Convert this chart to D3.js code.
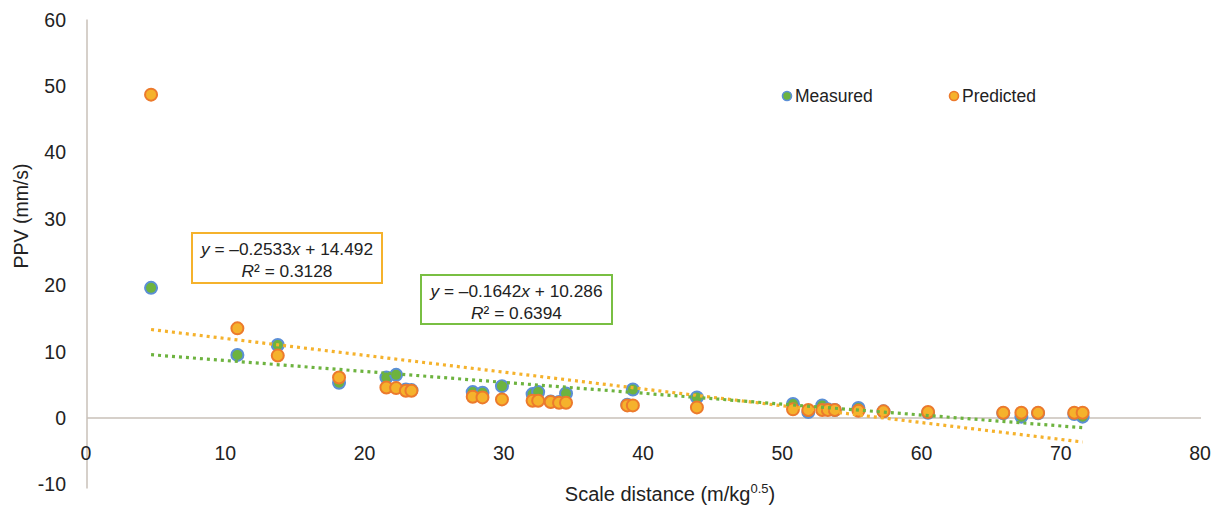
<!DOCTYPE html>
<html>
<head>
<meta charset="utf-8">
<script src="https://cdn.jsdelivr.net/npm/d3@7"></script>
<style>
  body { margin: 0; background: #fff; }
  svg { display: block; font-family: "Liberation Sans", Arial, sans-serif; }
</style>
</head>
<body>
<svg id="chart" width="1219" height="511"></svg>
<script>
// scale distance (m/kg^0.5)
const distance = [4.6, 10.8, 13.7, 18.1, 21.5, 22.2, 22.9, 23.3, 27.7, 28.4, 29.8, 32.0, 32.4, 33.3, 33.9, 34.4,
  38.8, 39.2, 43.8, 50.7, 51.8, 52.8, 53.2, 53.7, 55.4, 57.2, 60.4, 65.8, 67.1, 68.3, 70.9, 71.5];
const measured = [19.6, 9.5, 11.0, 5.3, 6.1, 6.5, 4.3, 4.2, 3.9, 3.8, 4.8, 3.6, 3.9, 2.5, 2.4, 3.7,
  2.0, 4.3, 3.1, 2.1, 0.9, 1.9, 1.3, 1.2, 1.5, 1.0, 0.8, 0.7, 0.2, 0.7, 0.6, 0.2];
const predicted = [48.7, 13.5, 9.4, 6.1, 4.6, 4.5, 4.1, 4.1, 3.2, 3.1, 2.8, 2.6, 2.6, 2.4, 2.3, 2.3,
  1.9, 1.9, 1.6, 1.3, 1.2, 1.2, 1.2, 1.2, 1.1, 1.0, 0.9, 0.8, 0.8, 0.8, 0.8, 0.8];

const xTicks = [0, 10, 20, 30, 40, 50, 60, 70, 80];
const yTicks = [-10, 0, 10, 20, 30, 40, 50, 60];

// linear trendlines (slope, intercept, r2)
const trendPred = { slope: -0.2533, intercept: 14.492, r2: "0.3128", eq: "0.2533", c: "14.492" };
const trendMeas = { slope: -0.1642, intercept: 10.286, r2: "0.6394", eq: "0.1642", c: "10.286" };

const col = {
  measFill: "#6db33f", measStroke: "#5b8fd6",
  predFill: "#f5b22c", predStroke: "#ec7a2c",
  axis: "#c9c0b9", text: "#222"
};

const svg = d3.select("#chart");
const x = d3.scaleLinear().domain([0, 80]).range([87, 1201]);
const y = d3.scaleLinear().domain([-10, 60]).range([484.4, 19.6]);

// axes lines
svg.append("line").attr("x1", x(0)).attr("x2", x(0)).attr("y1", y(60)).attr("y2", y(-10) + 4)
  .attr("stroke", col.axis).attr("stroke-width", 1.5);
svg.append("line").attr("x1", x(0)).attr("x2", x(80)).attr("y1", y(0)).attr("y2", y(0))
  .attr("stroke", col.axis).attr("stroke-width", 1.5);

// tick labels
svg.append("g").selectAll("text").data(yTicks).enter().append("text")
  .attr("x", 66).attr("y", d => y(d) + 7)
  .attr("text-anchor", "end").attr("font-size", 19.5).attr("fill", col.text)
  .text(d => d);
svg.append("g").selectAll("text").data(xTicks).enter().append("text")
  .attr("x", d => x(d) - 1).attr("y", y(0) + 42)
  .attr("text-anchor", "middle").attr("font-size", 19.5).attr("fill", col.text)
  .text(d => d);

// axis titles
svg.append("text").attr("transform", "translate(28,216) rotate(-90)")
  .attr("text-anchor", "middle").attr("font-size", 19.5).attr("fill", col.text)
  .text("PPV (mm/s)");
const xt = svg.append("text").attr("x", 670).attr("y", 501)
  .attr("text-anchor", "middle").attr("font-size", 20).attr("fill", col.text);
xt.append("tspan").text("Scale distance (m/kg");
xt.append("tspan").attr("font-size", 13).attr("dy", -8).text("0.5");
xt.append("tspan").attr("dy", 8).text(")");

// markers
function drawSeries(vals, fill, stroke) {
  svg.append("g").selectAll("circle").data(distance).enter().append("circle")
    .attr("cx", d => x(d)).attr("cy", (d, i) => y(vals[i]))
    .attr("r", 6).attr("fill", fill).attr("stroke", stroke).attr("stroke-width", 2);
}
drawSeries(measured, col.measFill, col.measStroke);
drawSeries(predicted, col.predFill, col.predStroke);

// trendlines
const xMin = d3.min(distance), xMax = d3.max(distance);
function drawTrend(t, color) {
  svg.append("line")
    .attr("x1", x(xMin)).attr("y1", y(t.slope * xMin + t.intercept))
    .attr("x2", x(xMax)).attr("y2", y(t.slope * xMax + t.intercept))
    .attr("stroke", color).attr("stroke-width", 3.2)
    .attr("stroke-dasharray", "3 4");
}
drawTrend(trendPred, col.predFill);
drawTrend(trendMeas, col.measFill);

// equation boxes
function eqBox(t, bx, by, bw, bh, color) {
  const g = svg.append("g");
  g.append("rect").attr("x", bx).attr("y", by).attr("width", bw).attr("height", bh)
    .attr("fill", "#fff").attr("stroke", color).attr("stroke-width", 2);
  const cx = bx + bw / 2;
  const l1 = g.append("text").attr("x", cx).attr("y", by + 22)
    .attr("text-anchor", "middle").attr("font-size", 17.3).attr("fill", col.text);
  l1.append("tspan").attr("font-style", "italic").text("y");
  l1.append("tspan").text(" = \u2013" + t.eq);
  l1.append("tspan").attr("font-style", "italic").text("x");
  l1.append("tspan").text(" + " + t.c);
  const l2 = g.append("text").attr("x", cx).attr("y", by + 44)
    .attr("text-anchor", "middle").attr("font-size", 17.3).attr("fill", col.text);
  l2.append("tspan").attr("font-style", "italic").text("R");
  l2.append("tspan").text("\u00b2 = " + t.r2);
}
eqBox(trendPred, 192, 233, 190, 50, col.predFill);
eqBox(trendMeas, 421, 275, 191, 49, "#79bf43");

// legend
const legend = [
  { name: "Measured", fill: col.measFill, stroke: col.measStroke, x: 787 },
  { name: "Predicted", fill: col.predFill, stroke: col.predStroke, x: 954 }
];
const lg = svg.append("g").selectAll("g").data(legend).enter().append("g");
lg.append("circle").attr("cx", d => d.x).attr("cy", 96).attr("r", 4.5)
  .attr("fill", d => d.fill).attr("stroke", d => d.stroke).attr("stroke-width", 1.6);
lg.append("text").attr("x", d => d.x + 8).attr("y", 102)
  .attr("font-size", 17.5).attr("fill", col.text).text(d => d.name);
</script>
</body>
</html>
